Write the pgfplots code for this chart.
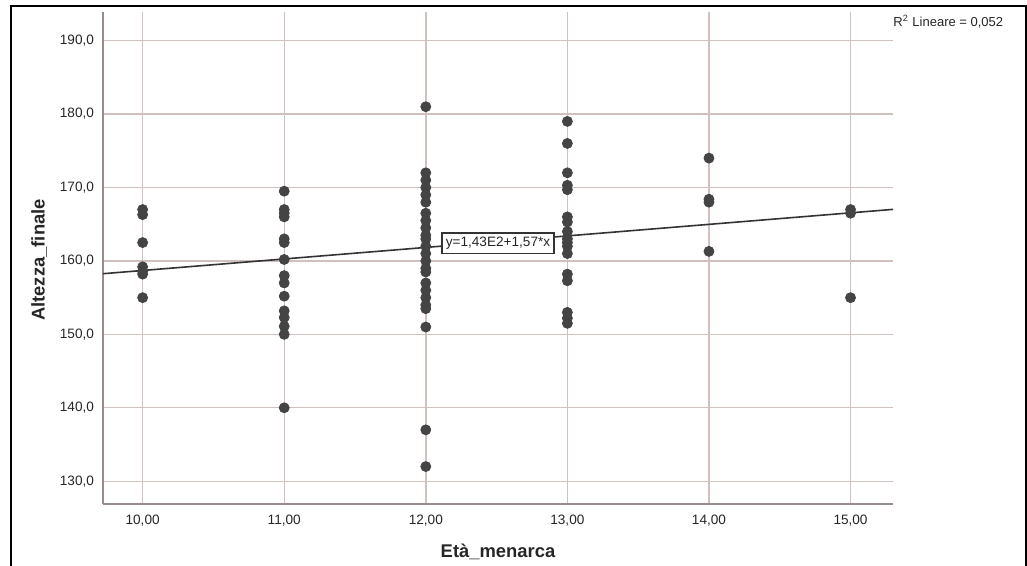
\documentclass[border=0pt]{standalone}
\usepackage{pgfplots}
\pgfplotsset{compat=1.18}
\usepackage{fontspec}
\setmainfont{Liberation Sans}
\definecolor{gridc}{RGB}{208,192,190}
\definecolor{spine}{RGB}{150,140,140}
\definecolor{dot}{RGB}{68,68,68}
\begin{document}
\begin{tikzpicture}
\path[use as bounding box] (0,0) rectangle (513.5pt,283pt);
\draw[black, line width=0.6pt] (5.5pt,0pt) -- (5.5pt,280pt) -- (513pt,280pt) -- (513pt,0pt);
\begin{axis}[
  at={(51.5pt,31pt)}, anchor=south west,
  scale only axis, width=395pt, height=246pt,
  xmin=9.72, xmax=15.30, ymin=126.9, ymax=193.9,
  axis x line=bottom, axis y line=left,
  axis line style={spine, line width=0.8pt, -},
  xtick={10,11,12,13,14,15}, ytick={130,140,150,160,170,180,190},
  major tick length=0pt,
  grid=major, major grid style={gridc, line width=0.7pt},
  tick label style={font=\fontsize{6.8}{8}\selectfont, text=black!85},
  /pgf/number format/assume math mode=true,
  xticklabel={\pgfmathprintnumber[use comma,fixed,fixed zerofill,precision=2,assume math mode=true]{\tick}},
  yticklabel={\pgfmathprintnumber[use comma,fixed,fixed zerofill,precision=1,assume math mode=true]{\tick}},
  x tick label style={yshift=-2pt},
  y tick label style={xshift=-1pt},
  xlabel={Età\_menarca}, ylabel={Altezza\_finale},
  label style={font=\fontsize{9.2}{11}\selectfont\bfseries, text=black!85},
  xlabel style={at={(axis description cs:0.5,-0.0976)}, anchor=center},
  ylabel style={at={(axis description cs:-0.081,0.496)}, anchor=center},
  clip=false,
]
\addplot[only marks, mark=*, mark size=2.5pt, mark options={fill=dot, draw=dot}] coordinates {
(10,167.0) (10,166.3) (10,162.5) (10,159.2) (10,158.6) (10,158.2) (10,155.0)
(11,169.5) (11,167.0) (11,166.5) (11,166.0) (11,163.0) (11,162.5) (11,160.2) (11,158.0) (11,157.0) (11,155.2) (11,153.2) (11,152.3) (11,151.1) (11,150.0) (11,140.0)
(12,181.0) (12,172.0) (12,171.0) (12,170.0) (12,169.0) (12,168.0) (12,166.5) (12,165.5) (12,164.5) (12,163.5) (12,163.0) (12,162.0) (12,161.0) (12,160.0) (12,159.0) (12,158.5) (12,157.0) (12,156.0) (12,155.0) (12,154.0) (12,153.5) (12,151.0) (12,137.0) (12,132.0)
(13,179.0) (13,176.0) (13,172.0) (13,170.3) (13,169.7) (13,166.0) (13,165.3) (13,164.0) (13,163.0) (13,162.5) (13,162.0) (13,161.0) (13,158.2) (13,157.3) (13,153.0) (13,152.2) (13,151.5)
(14,174.0) (14,168.4) (14,168.0) (14,161.3)
(15,167.0) (15,166.5) (15,155.0)
};
\addplot[black!80, line width=0.8pt] coordinates {(9.72,158.26) (15.30,167.02)};
\node[draw=black!80, fill=white, line width=0.7pt, inner sep=2pt, font=\fontsize{6.8}{8}\selectfont, text=black!85] at (axis cs:12.51,162.4) {y=1,43E2+1,57*x};
\node[anchor=west, font=\fontsize{6.5}{8}\selectfont, text=black!85, inner sep=0pt] at (axis cs:15.30,192.6) {R\textsuperscript{2} Lineare = 0,052};
\end{axis}
\end{tikzpicture}
\end{document}
